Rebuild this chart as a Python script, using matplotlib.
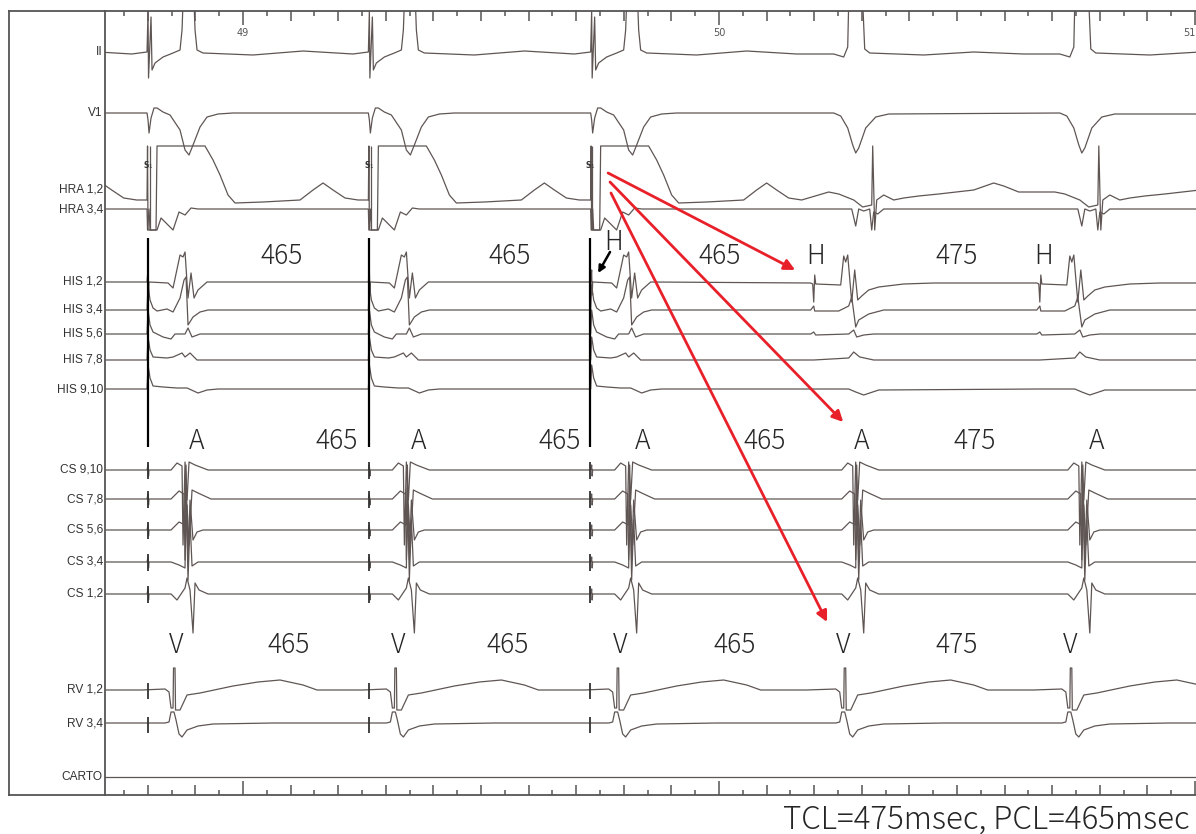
import matplotlib
matplotlib.use("Agg")
import matplotlib.pyplot as plt
import numpy as np
from matplotlib.lines import Line2D
from matplotlib.transforms import blended_transform_factory

# ---- timing (seconds) ----
PX_PER_S = 476.0          # screen scale of the recording
T_LEFT = 49 - 138 / 476.0
T_RIGHT = T_LEFT + 1091 / 476.0

v_times = [48.388, 48.853, 49.318, 49.785, 50.262, 50.737]
beat_kind = ["S", "S", "S", "S", "T", "T"]   # S = paced, T = tachycardia
stim_times = [48.800, 49.265, 49.730]

# ---- channels: name, baseline (row position) ----
channels = ["II", "V1", "HRA 1,2", "HRA 3,4", "HIS 1,2", "HIS 3,4", "HIS 5,6",
            "HIS 7,8", "HIS 9,10", "CS 9,10", "CS 7,8", "CS 5,6", "CS 3,4",
            "CS 1,2", "RV 1,2", "RV 3,4", "CARTO"]
baselines = [52, 113, 200, 209, 282, 310, 334, 360, 389, 470, 499, 530, 562,
             594, 689, 723, 777]
label_rows = [52, 113, 190, 209, 282, 310, 334, 360, 389, 470, 499, 530, 562,
              594, 689, 723, 777]

# ---- beat shapes: (offset from V in screen px, deflection in px, down = +) ----
ii_paced = [(-26, 0), (-25, -41), (-24.5, 26), (-22, -35), (-21, 18), (-18, 11), (-10, 5),
            (0, 1), (7, -2), (9, -22), (10, -50), (21, -50), (22, -22), (24, -2), (30, 1),
            (80, 3), (130, -1), (180, 2)]
ii_tachy = [(-10, 2), (0, 5), (4, -5), (5, -50), (19, -50), (21, -3), (26, 1), (80, 3),
            (130, 0), (180, 2)]
v1_paced = [(-26, 0), (-25, 7), (-24, 20), (-22, 5), (-19, -5), (-16, -5), (-10, -1), (-3, 2),
            (7, 17), (12, 37), (16, 42), (20, 32), (27, 14), (34, 4), (45, 1), (60, 0)]
v1_tachy = [(-10, 0), (-3, 3), (4, 15), (9, 32), (12, 40), (15, 35), (22, 15), (32, 4),
            (45, 1)]
hra12_paced = [(-26, 0), (-25.5, -54), (-25, 30), (-17, 30), (-16, -54), (32, -54), (40, -40),
               (47, -25), (55, -5), (62, 3), (90, 2), (127, 0), (140, -10), (150, -17),
               (160, -10), (172, -2), (185, 0)]
hra12_tachy = [(-15, -8), (-5, -6), (10, 0), (19, 7), (28, 5), (29, -54), (31, 30), (33, 0),
               (40, -5), (50, 0), (60, -2), (75, -4), (95, -6), (130, -10), (150, -17),
               (160, -14), (175, -8), (190, -8)]
hra34_paced = [(-26, 0), (-25.5, 21), (-24, 0), (-23, 21), (-16, 21), (-12, 9), (-8, 13),
               (0, 21), (6, 3), (12, 6), (18, -1), (25, 0)]
hra34_tachy = [(-5, 0), (8, 0), (12, 17), (15, 0), (20, 2), (26, 0), (28, 21), (30, 3),
               (34, 5), (40, 0)]
his12_paced = [(-26, 0), (-25, -12), (-24.5, 13), (-24, 0), (-5, 1), (0, 6), (7, -27),
               (10, -25), (12, -30), (15, 16), (18, -9), (21, 16), (25, 8), (34, 0)]
his12_tachy = [(-33, 1), (-31, 2), (-30, 20), (-29, -7), (-28, 2), (-3, 3), (0, -26), (2, -20),
               (4, -27), (8, 20), (11, -12), (14, 18), (18, 14), (25, 8), (35, 5), (60, 2),
               (90, 1)]
his34_paced = [(-26, 0), (-25, -25), (-23, -10), (-20, -2), (-16, 1), (-6, -1), (0, 2),
               (7, -12), (11, -30), (13, -33), (15, 15), (20, 7), (27, 2), (35, 0)]
his34_tachy = [(-33, 0), (-30, -4), (-29, 1), (-5, 1), (5, -4), (8, -13), (12, 17), (15, 10),
               (25, 4), (40, 0)]
his56_paced = [(-26, 0), (-25, -24), (-23, -9), (-20, -2), (-10, 3), (-2, 5), (2, 0), (12, 0),
               (15, -6), (19, 3), (27, 0)]
his56_tachy = [(-33, 0), (-30, -2), (-28, 1), (5, 0), (10, -4), (13, 3), (20, 1), (30, 0)]
his78_paced = [(-26, 0), (-25, -23), (-23, -10), (-20, -3), (-6, -2), (0, -3), (9, -7),
               (12, -3), (17, -7), (24, 0)]
his78_tachy = [(-30, 0), (5, -2), (10, -8), (16, -3), (30, 0)]
his910_paced = [(-26, 0), (-25, -24), (-23, -11), (-20, -3), (-10, -2), (4, -1), (14, -1),
                (25, 4), (34, 1), (45, 0)]
his910_tachy = [(-30, 0), (5, 0), (12, 3), (20, 6), (35, 1)]
cs_stim = [(-26, 0), (-25, -5), (-24.5, 6), (-24, 0)]
cs910 = [(-2, 0), (4, -7), (9, -4), (10, 75), (12, -8), (14, 30), (16, -8), (22, -5), (35, 0)]
cs78 = [(-2, 0), (6, -8), (11, -5), (12, 61), (14, 6), (16, 46), (19, -9), (25, -6), (38, 0)]
cs56 = [(-2, 0), (6, -8), (12, -5), (13, -65), (15, 30), (17, -30), (20, 10), (24, 2), (30, 0)]
cs34 = [(-2, 0), (6, 3), (12, 6), (13, -74), (15, 18), (17, -42), (19, 4), (25, 0)]
cs12 = [(-2, 0), (4, 6), (12, -6), (14, -16), (17, -4), (20, 39), (22, -11), (26, -4), (35, 0)]
rv12 = [(-8, 0), (-4, 3), (-2, 19), (0, 19), (0.5, -21), (2, -21), (2.5, 21), (7, 21), (14, 6),
        (27, 4), (60, -3), (85, -7), (107, -9), (130, -4), (144, 1), (190, 1)]
rv34 = [(-8, 0), (-4, -1), (-2, -11), (1, -11), (3, -3), (6, 11), (9, 14), (14, 7), (25, 3),
        (40, 1), (100, 0)]

shapes = {
    "II": (ii_paced, ii_tachy), "V1": (v1_paced, v1_tachy),
    "HRA 1,2": (hra12_paced, hra12_tachy), "HRA 3,4": (hra34_paced, hra34_tachy),
    "HIS 1,2": (his12_paced, his12_tachy), "HIS 3,4": (his34_paced, his34_tachy),
    "HIS 5,6": (his56_paced, his56_tachy), "HIS 7,8": (his78_paced, his78_tachy),
    "HIS 9,10": (his910_paced, his910_tachy),
    "CS 9,10": (cs_stim + cs910, cs910), "CS 7,8": (cs_stim + cs78, cs78),
    "CS 5,6": (cs_stim + cs56, cs56), "CS 3,4": (cs_stim + cs34, cs34),
    "CS 1,2": (cs_stim + cs12, cs12), "RV 1,2": (rv12, rv12), "RV 3,4": (rv34, rv34),
    "CARTO": ([(0, 0)], [(0, 0)]),
}

# ---- annotations ----
h_row_text = ["465", "465", "465", "475", "H", "H"]
h_row_t = [49.082, 49.561, 50.002, 50.500, 50.202, 50.681]
a_row_text = ["A", "465", "A", "465", "A", "465", "A", "475", "A"]
a_row_t = [48.903, 49.197, 49.368, 49.666, 49.840, 50.097, 50.300, 50.538, 50.794]
v_row_text = ["V", "465", "V", "465", "V", "465", "V", "475", "V"]
v_row_t = [48.859, 49.095, 49.326, 49.557, 49.792, 50.034, 50.261, 50.500, 50.737]
red_arrows = [((49.767, 173), (50.160, 270)),
              ((49.771, 182), (50.261, 422)),
              ((49.773, 193), (50.227, 622))]

W, H = 1196, 834
TRACE = "#5f5654"
FRAME = "#555555"
INK = "#262626"
BIG = ["Noto Sans CJK JP", "DejaVu Sans"]

fig = plt.figure(figsize=(W / 100, H / 100), dpi=100)
fig.patch.set_facecolor("white")
ax = fig.add_axes([105 / W, 1 - 795 / H, (W - 105) / W, 784 / H])
ax.set_xlim(T_LEFT, T_RIGHT)
ax.set_ylim(795, 11)
ax.set_xticks([])
ax.set_yticks([])
for side in ["left", "top", "bottom"]:
    ax.spines[side].set_color(FRAME)
    ax.spines[side].set_linewidth(1.3)
ax.spines["right"].set_visible(False)

# outer frame around the label column
fig.add_artist(Line2D([9 / W, 9 / W], [1 - 11 / H, 1 - 795 / H], color=FRAME, lw=1.3))
fig.add_artist(Line2D([9 / W, 105 / W], [1 - 11 / H] * 2, color=FRAME, lw=1.3))
fig.add_artist(Line2D([9 / W, 105 / W], [1 - 795 / H] * 2, color=FRAME, lw=1.3))

# time ticks: 50 ms short, 100 ms medium, 1 s long
for k in range(int(np.ceil(T_LEFT * 20)), int(T_RIGHT * 20) + 1):
    t = k / 20
    length = 14 if k % 20 == 0 else (10 if k % 2 == 0 else 5)
    ax.vlines(t, 11, 11 + length, color=FRAME, lw=1.1)
    ax.vlines(t, 795 - length, 795, color=FRAME, lw=1.1)
for sec in [49, 50]:
    ax.text(sec, 33, str(sec), ha="center", va="center", fontsize=7, color="#555555")
ax.text(0.9995, 33, "51", transform=blended_transform_factory(ax.transAxes, ax.transData),
        ha="right", va="center", fontsize=7, color="#555555")

# traces
for name, base in zip(channels, baselines):
    paced, tachy = shapes[name]
    xs, ys = [T_LEFT - 0.2], [base]
    for v, kind in zip(v_times, beat_kind):
        tpl = paced if kind == "S" else tachy
        for dx, dy in tpl:
            xs.append(v + dx / PX_PER_S)
            ys.append(base + dy)
    xs.append(T_RIGHT + 0.2)
    ys.append(ys[-1])
    ax.plot(xs, ys, color=TRACE, lw=0.9)

# stimulus artefacts across the catheters
cs_rows = baselines[9:14]
rv_rows = baselines[14:16]
for st in stim_times:
    ax.vlines(st, 238, 447, color="black", lw=1.6)
    ax.vlines(st + 0.004, 146, 230, color=TRACE, lw=0.9)
    for b in cs_rows:
        ax.vlines(st, b - 8, b + 9, color="#333333", lw=1.3)
    for b in rv_rows:
        ax.vlines(st, b - 6, b + 10, color="#333333", lw=1.3)
    ax.text(st - 0.004, 165, "S", fontsize=5.5, color="#333333", ha="center", va="center",
            fontweight="bold")
    ax.text(st + 0.004, 167, "1", fontsize=4, color="#333333", ha="center", va="center")

# channel labels
lab_tr = blended_transform_factory(ax.transAxes, ax.transData)
for name, y in zip(channels, label_rows):
    ax.text(-0.002, y, name, transform=lab_tr, ha="right", va="center", fontsize=8.6,
            family=["Liberation Sans", "DejaVu Sans"], color="#333333", clip_on=False)

# interval and deflection labels
big = dict(ha="center", va="center", fontsize=19, family=BIG, color=INK, fontweight="light")
for txt, t in zip(h_row_text, h_row_t):
    ax.text(t, 256, txt, **big)
ax.text(49.779, 242, "H", **big)
for txt, t in zip(a_row_text, a_row_t):
    ax.text(t, 441, txt, **big)
for txt, t in zip(v_row_text, v_row_t):
    ax.text(t, 645, txt, **big)

ax.annotate("", xy=(49.746, 273), xytext=(49.771, 252),
            arrowprops=dict(arrowstyle="-|>", color="black", lw=1.8, mutation_scale=10,
                            shrinkA=0, shrinkB=0))
for start, end in red_arrows:
    ax.annotate("", xy=end, xytext=start,
                arrowprops=dict(arrowstyle="-|>", color="#e8202a", lw=2.0,
                                mutation_scale=16, shrinkA=0, shrinkB=0))

fig.text(1190 / W, 1 - 820 / H, "TCL=475msec, PCL=465msec", ha="right", va="center",
         fontsize=22.5, family=BIG, color=INK, fontweight="light")

fig.savefig("out.png", dpi=100, facecolor="white")
